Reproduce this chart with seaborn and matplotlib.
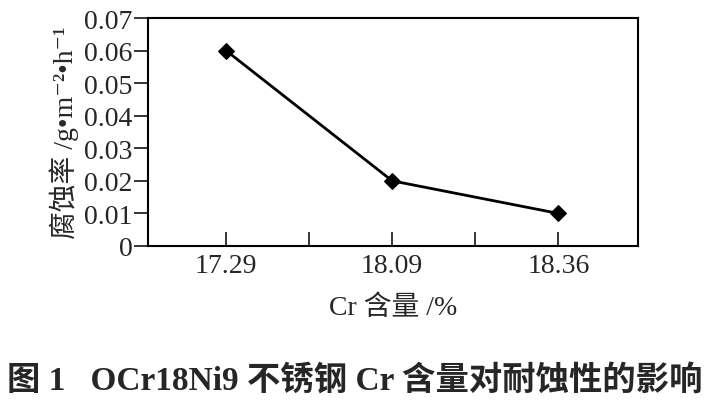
import matplotlib
matplotlib.use('Agg')
import matplotlib.pyplot as plt
from matplotlib.ticker import FixedLocator
import seaborn as sns
import pandas as pd

sns.set_style('ticks')   # plain white axes with a box
plt.rcParams['font.family'] = ['Liberation Serif', 'Noto Sans CJK SC', 'DejaVu Sans']

cr_content = ['17.29', '18.09', '18.36']    # Cr 含量 /%
corr_rate = [0.060, 0.020, 0.010]           # 腐蚀率 g/(m^2*h)
y_ticks = [0, 0.01, 0.02, 0.03, 0.04, 0.05, 0.06, 0.07]
y_tick_labels = ['0', '0.01', '0.02', '0.03', '0.04', '0.05', '0.06', '0.07']

df = pd.DataFrame({'cr': cr_content, 'rate': corr_rate})

fig = plt.figure(figsize=(7.09, 4.02), dpi=100)
ax = fig.add_axes([0.2087, 0.3856, 0.6913, 0.5671])
sns.lineplot(data=df, x='cr', y='rate', color='black', marker='D', markersize=8,
             linewidth=2, markeredgecolor='black', ax=ax)

ax.set_xlim(-0.47, 2.48)
ax.set_ylim(0, 0.07)
ax.set_yticks(y_ticks)
ax.set_yticklabels(y_tick_labels)
ax.xaxis.set_minor_locator(FixedLocator([0.5, 1.5]))
ax.tick_params(axis='x', which='both', direction='in', length=10, width=1.3, labelsize=20, pad=5)
ax.tick_params(axis='y', direction='out', length=10, width=1.3, labelsize=20, pad=1)
for sp in ax.spines.values():
    sp.set_visible(True)
    sp.set_linewidth(1.5)
    sp.set_color('black')

ax.set_xlabel('Cr 含量 /%', fontsize=20, labelpad=12)
ax.set_ylabel('腐蚀率 /g•m⁻²•h⁻¹', fontsize=20, labelpad=4)

fig.text(0.5, 0.052, '图 1   OCr18Ni9 不锈钢 Cr 含量对耐蚀性的影响', ha='center', va='center',
         fontsize=24, fontweight='bold')

fig.savefig('out.png', dpi=100, facecolor='white')
